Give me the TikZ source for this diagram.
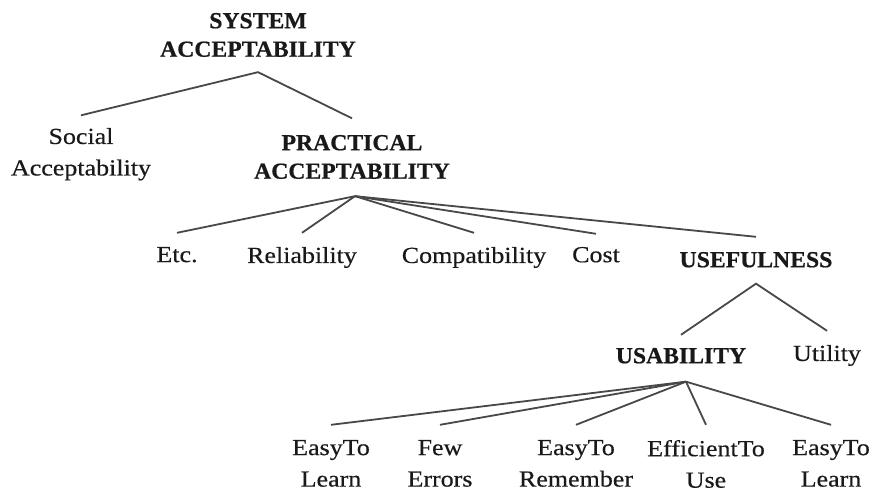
\documentclass[tikz,border=0pt]{standalone}
\usepackage{fontspec}
\setmainfont{Liberation Serif}
\newfontfamily\regf[FakeStretch=1.13,FakeBold=0.4]{Liberation Serif}
\newfontfamily\boldf[FakeStretch=1.03,FakeBold=0.6]{Liberation Serif}
\definecolor{txtc}{RGB}{25,25,25}
\definecolor{linec}{RGB}{72,72,72}
\tikzset{
  lbl/.style={inner sep=0pt, anchor=north, align=center, text=txtc,
    font=\regf\fontsize{23}{31.5}\selectfont},
  hdr/.style={inner sep=0pt, anchor=north, align=center, text=txtc,
    font=\boldf\bfseries\fontsize{23}{28.5}\selectfont},
  edge/.style={draw=linec, line width=1.8pt}
}
\begin{document}
\begin{tikzpicture}[x=1pt,y=-1pt]
\useasboundingbox[fill=white] (0,0) rectangle (872,491);
% nodes
\node[hdr] (sys)  at (258,12.8)  {SYSTEM\\ACCEPTABILITY};
\node[lbl] (soc)  at (81,127.8)  {Social\\Acceptability};
\node[hdr] (prac) at (352,134.8) {PRACTICAL\\ACCEPTABILITY};
\node[lbl] (etc)  at (177,246.8) {Etc.};
\node[lbl] (rel)  at (302,246.8) {Reliability};
\node[lbl] (comp) at (474,246.8) {Compatibility};
\node[lbl] (cost) at (596,246.8) {Cost};
\node[hdr] (use)  at (756,251.8) {USEFULNESS};
\node[hdr] (usab) at (681,347.8) {USABILITY};
\node[lbl] (util) at (827,344.8) {Utility};
\node[lbl] (el1)  at (331,439.8) {EasyTo\\Learn};
\node[lbl] (few)  at (440,439.8) {Few\\Errors};
\node[lbl] (rem)  at (576,439.8) {EasyTo\\Remember};
\node[lbl] (eff)  at (706,439.8) {EfficientTo\\Use};
\node[lbl] (el2)  at (831,439.8) {EasyTo\\Learn};
% connectors
\draw[edge] ([yshift=12.5pt]soc.north) -- ([yshift=-15pt]sys.south) -- ([yshift=16.5pt]prac.north);
\foreach \c/\g in {etc/14,rel/14,comp/14,cost/13,use/15}
  \draw[edge] ([xshift=3pt,yshift=-17pt]prac.south) -- ([yshift=\g pt]\c.north);
\draw[edge] ([yshift=13pt]usab.north) -- ([yshift=-16pt]use.south) -- ([yshift=14pt]util.north);
\foreach \c in {el1,few,rem,eff,el2}
  \draw[edge] ([xshift=5pt,yshift=-18pt]usab.south) -- ([yshift=15pt]\c.north);
\end{tikzpicture}
\end{document}
